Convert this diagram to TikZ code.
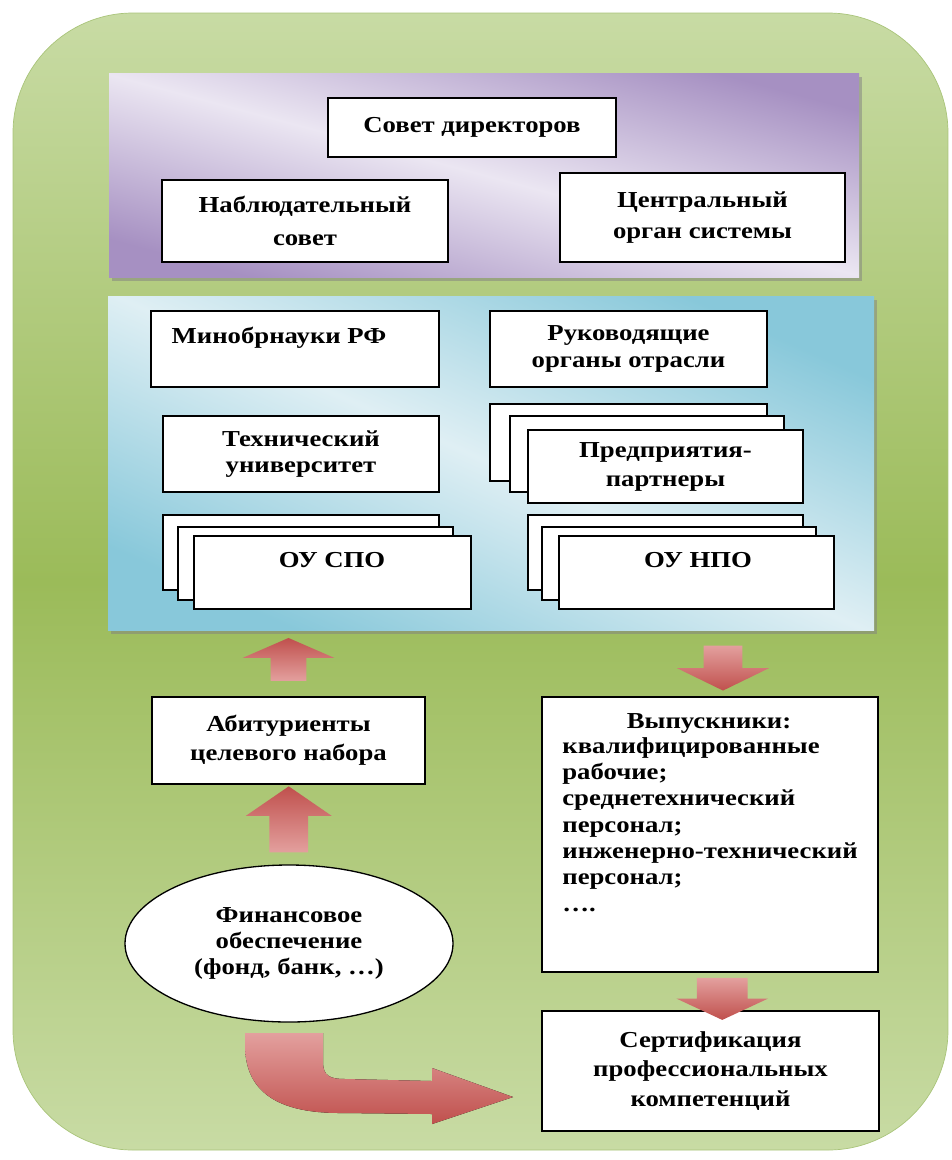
\documentclass[tikz,border=0pt]{standalone}
\usepackage{fontspec}
\setmainfont{Liberation Serif}[FakeStretch=1.17]
\usepackage{xcolor}
\usepackage{tikz}
\usetikzlibrary{shapes.geometric,shapes.arrows,shadows,calc}

\definecolor{greenlight}{HTML}{C8DBA4}
\definecolor{greenmid}{HTML}{9BBB59}
\definecolor{greenline}{HTML}{A9C47A}
\definecolor{violetdark}{HTML}{A690C2}
\definecolor{violetlight}{HTML}{EBE6F2}
\definecolor{cyandark}{HTML}{88C8DA}
\definecolor{cyanlight}{HTML}{DFEFF4}
\definecolor{arrowdark}{HTML}{C0504D}
\definecolor{arrowlight}{HTML}{E3A09E}

\tikzset{
  box/.style={draw=black,line width=0.75pt,fill=white,inner sep=0pt,align=center,font=\bfseries\fontsize{13}{15}\selectfont},
  size/.style 2 args={minimum width=#1*0.02cm,minimum height=#2*0.02cm},
  lbl/.style={inner sep=0pt,align=left,font=\bfseries\fontsize{13}{15}\selectfont},
  panel/.style={inner sep=0pt,drop shadow={shadow xshift=1.5pt,shadow yshift=-2pt,opacity=0.5}},
  blockarrow/.style={single arrow,inner ysep=0pt,single arrow head indent=0pt},
  arrowup/.style={blockarrow,shape border rotate=90,top color=arrowdark,bottom color=arrowlight},
  arrowdown/.style={blockarrow,shape border rotate=270,top color=arrowlight,bottom color=arrowdark}
}

\begin{document}
\begin{tikzpicture}[x=0.02cm,y=-0.02cm]
\useasboundingbox (0,0) rectangle (951,1160);
\draw[greenline,top color=greenlight,bottom color=greenlight,middle color=greenmid,rounded corners=2.4cm] (13,13) rectangle (948,1150);

\node[panel,size={750}{204},left color=violetdark,right color=violetdark,middle color=violetlight,shading angle=165] (boardpanel) at (484,175) {};
\node[panel,size={766}{334},left color=cyandark,right color=cyandark,middle color=cyanlight,shading angle=156] (cyanpanel) at (491,463) {};

\node[box,size={288}{59}] (board) at (472,127.5) {Совет директоров};
\node[box,size={286}{82}] (watch) at (305,221) {Наблюдательный\\[3.5pt] совет};
\node[box,size={285}{89}] (central) at (702.5,217.5) {Центральный\\[2.5pt] орган системы};

\node[box,size={288}{76}] (mino) at (295,349) {};
\node[lbl,anchor=base] (minotxt) at (279,343) {Минобрнауки РФ};
\node[box,size={277}{76}] (branch) at (628.5,349) {Руководящие\\ органы отрасли};
\node[box,size={276}{76}] (univ) at (301,454) {Технический\\ университет};
\node[box,size={277}{77}] (firm1) at (628.5,442.5) {};
\node[box,size={274}{76}] (firm2) at (647,454) {};
\node[box,size={275}{73}] (firm3) at (665.5,466.5) {Предприятия-\\[1.5pt] партнеры};
\node[box,size={276}{75}] (spo1) at (301,552.5) {};
\node[box,size={275}{73}] (spo2) at (315.5,563.5) {};
\node[box,size={277}{73}] (spo3) at (332.5,572.5) {};
\node[lbl,anchor=base] (spotxt) at (332,567) {ОУ СПО};
\node[box,size={275}{75}] (npo1) at (665.5,552.5) {};
\node[box,size={274}{73}] (npo2) at (679,563.5) {};
\node[box,size={275}{73}] (npo3) at (696.5,572.5) {};
\node[lbl,anchor=base] (npotxt) at (698,567) {ОУ НПО};

\node[box,size={273}{87}] (abit) at (288.5,740.5) {Абитуриенты\\[1.5pt] целевого набора};
\node[box,size={336}{275}] (grad) at (710,834.5) {};
\node[lbl,anchor=base] (gradhead) at (709,728) {Выпускники:};
\node[lbl,anchor=north west] (gradlist) at (562,737) {квалифицированные\\ рабочие;\\ среднетехнический\\ персонал;\\ инженерно-технический\\ персонал;\\ ….};
\node[box,ellipse,size={328}{157}] (fin) at (289,943.5) {Финансовое\\ обеспечение\\ (фонд, банк, …)};
\node[box,size={337}{120}] (cert) at (710.5,1071) {Сертификация\\[2pt] профессиональных\\[2pt] компетенций};

\node[arrowup,inner xsep=17.5*0.02cm,minimum height=43*0.02cm,single arrow head extend=28*0.02cm,single arrow tip angle=133] (upA) at ($(abit.north)!0.5!(abit.north |- cyanpanel.south)$) {};
\node[arrowdown,inner xsep=19*0.02cm,minimum height=45*0.02cm,single arrow head extend=26.5*0.02cm,single arrow tip angle=128] (downA) at ($(grad.north)!0.5!(grad.north |- cyanpanel.south)+(13,0)$) {};
\node[arrowup,inner xsep=19*0.02cm,minimum height=66*0.02cm,single arrow head extend=23.5*0.02cm,single arrow tip angle=111] (upB) at ($(abit.south)!0.5!(fin.north)+(0,1.5)$) {};
\node[arrowdown,inner xsep=25*0.02cm,minimum height=42*0.02cm,single arrow head extend=20.5*0.02cm,single arrow tip angle=130] (downB) at ($(grad.south)!0.5!(cert.north)+(12,1.5)$) {};

\fill[top color=arrowlight,bottom color=arrowdark] (245,1033) -- (323,1033) -- (323,1062) .. controls (323,1076) and (330,1079) .. (345,1079) -- (432,1081) -- (432,1068) -- (513,1097) -- (432,1124) -- (432,1114) -- (340,1113) .. controls (275,1113) and (245,1090) .. (245,1045) -- cycle;
\end{tikzpicture}
\end{document}
